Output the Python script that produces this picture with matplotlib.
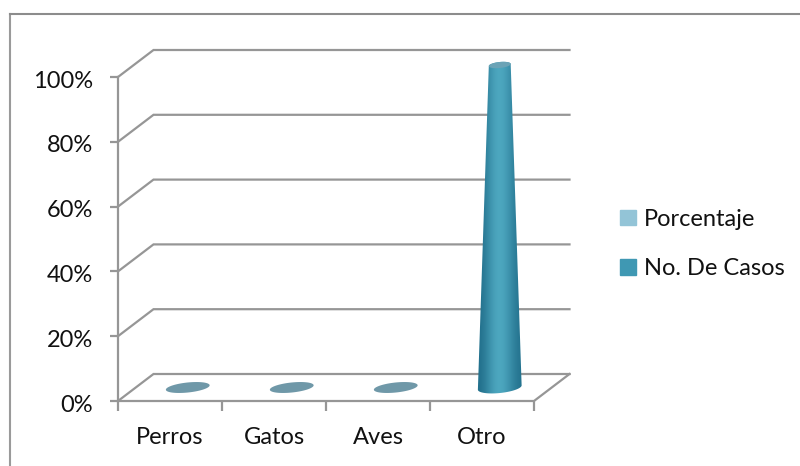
import numpy as np
import matplotlib
matplotlib.use("Agg")
import matplotlib.pyplot as plt
from matplotlib.patches import Patch, Polygon
from matplotlib.transforms import ScaledTranslation

categories = ["Perros", "Gatos", "Aves", "Otro"]
no_de_casos = [0, 0, 0, 100]
porcentaje = [0, 0, 0, 0]
y_ticks = [0, 20, 40, 60, 80, 100]
y_labels = ["0%", "20%", "40%", "60%", "80%", "100%"]
series_names = ["Porcentaje", "No. De Casos"]
series_colors = ["#93c4d7", "#3f98b3"]

W, H = 800, 466
L, R, T, B = 118, 534, 77, 401
DX, DY = 35.5, 27
GRID = "#969696"
FLAT = "#6f98a8"
FS = 17

plt.rcParams["font.family"] = ["Lato", "DejaVu Sans"]
fig = plt.figure(figsize=(W / 100, H / 100), dpi=100)
ax = fig.add_axes([L / W, 1 - B / H, (R - L) / W, (B - T) / H])
ax.set_xlim(0, len(categories))
ax.set_ylim(0, 100)
ax.patch.set_alpha(0)
for s in ax.spines.values():
    s.set_visible(False)

px = len(categories) / (R - L)   # data units per pixel, x
py = 100 / (B - T)               # data units per pixel, y
ddx, ddy = DX * px, DY * py

# outer frame of the chart area (left and top only are in view)
fig.add_artist(plt.Line2D([10 / W, 10 / W], [0, 1 - 14 / H], color="#9a9a9a", lw=1.5))
fig.add_artist(plt.Line2D([10 / W, 1], [1 - 14 / H, 1 - 14 / H], color="#8c8c8c", lw=1.5))

# walls and floor
n = len(categories)
for v in y_ticks:
    xs = [0, ddx, n + ddx]
    ys = [v, v + ddy, v + ddy]
    ax.plot(xs, ys, color=GRID, lw=1.6, clip_on=False, zorder=1, solid_joinstyle="miter")
ax.plot([0, n, n + ddx], [0, 0, ddy], color=GRID, lw=1.6, clip_on=False, zorder=1)
ax.plot([0, 0], [0, 100], color=GRID, lw=1.6, clip_on=False, zorder=1)

ax.set_xticks(range(n + 1))
ax.set_xticklabels([])
ax.set_yticks(y_ticks)
ax.set_yticklabels(y_labels, fontsize=FS, color="#111111")
ax.tick_params(axis="y", length=6, width=1.6, color=GRID, pad=12)
ax.tick_params(axis="x", length=7, width=1.6, color=GRID)
shift = ScaledTranslation(0, -2 / 100, fig.dpi_scale_trans)
for lab in ax.get_yticklabels():
    lab.set_transform(lab.get_transform() + shift)
for i, c in enumerate(categories):
    ax.annotate(c, (i + 0.5, 0), xytext=(0, -36), textcoords="offset pixels",
                ha="center", va="center", fontsize=FS, color="#111111", annotation_clip=False)


def ellipse(cx, cy, a, b, deg=6, t0=0.0, t1=2 * np.pi):
    t = np.linspace(t0, t1, 80)
    th = np.radians(deg)
    ex = a * np.cos(t) * np.cos(th) - b * np.sin(t) * np.sin(th)
    ey = a * np.cos(t) * np.sin(th) + b * np.sin(t) * np.cos(th)
    return cx + ex * px, cy + ey * py


grad = np.array([[0.0, 0.35, 0.8, 1.0, 0.75, 0.35, 0.05]])
c0 = np.array(matplotlib.colors.to_rgb("#22708c"))
c1 = np.array(matplotlib.colors.to_rgb("#50abc3"))
img = (c0[None, None, :] * (1 - grad[..., None]) + c1[None, None, :] * grad[..., None])

for i, v in enumerate(no_de_casos):
    cx = i + 0.5 + ddx / 2
    cy = ddy / 2
    if v == 0:
        xs, ys = ellipse(cx, cy, 22, 5)
        ax.fill(xs, ys, color=FLAT, lw=0, clip_on=False, zorder=3)
    else:
        top = v + cy - 1.5 * py
        bx, by = ellipse(cx, cy, 22, 5.5, t0=np.pi, t1=2 * np.pi)
        tx, ty = ellipse(cx, top, 11, 3, t0=0, t1=np.pi)
        poly = Polygon(np.column_stack([np.r_[bx, tx], np.r_[by, ty]]), closed=True,
                       transform=ax.transData, fc="none", ec="none")
        ax.add_patch(poly)
        im = ax.imshow(img, extent=[cx - 23 * px, cx + 23 * px, cy - 7 * py, top + 4 * py],
                       aspect="auto", interpolation="bicubic", zorder=3)
        im.set_clip_box(fig.bbox)
        im.set_clip_path(poly)
        xs, ys = ellipse(cx, top, 11, 3)
        ax.fill(xs, ys, color="#6ba3b6", lw=0, clip_on=False, zorder=4)
ax.set_xlim(0, n)
ax.set_ylim(0, 100)

handles = [Patch(color=c, label=s) for c, s in zip(series_colors, series_names)]
fig.legend(handles=handles, loc="center left", bbox_to_anchor=(618 / W, 1 - 244 / H),
           frameon=False, fontsize=FS, handlelength=0.65, handleheight=0.65,
           handletextpad=0.33, labelspacing=1.2, labelcolor="#111111", borderpad=0.1, borderaxespad=0)

fig.savefig("out.png", dpi=100)
